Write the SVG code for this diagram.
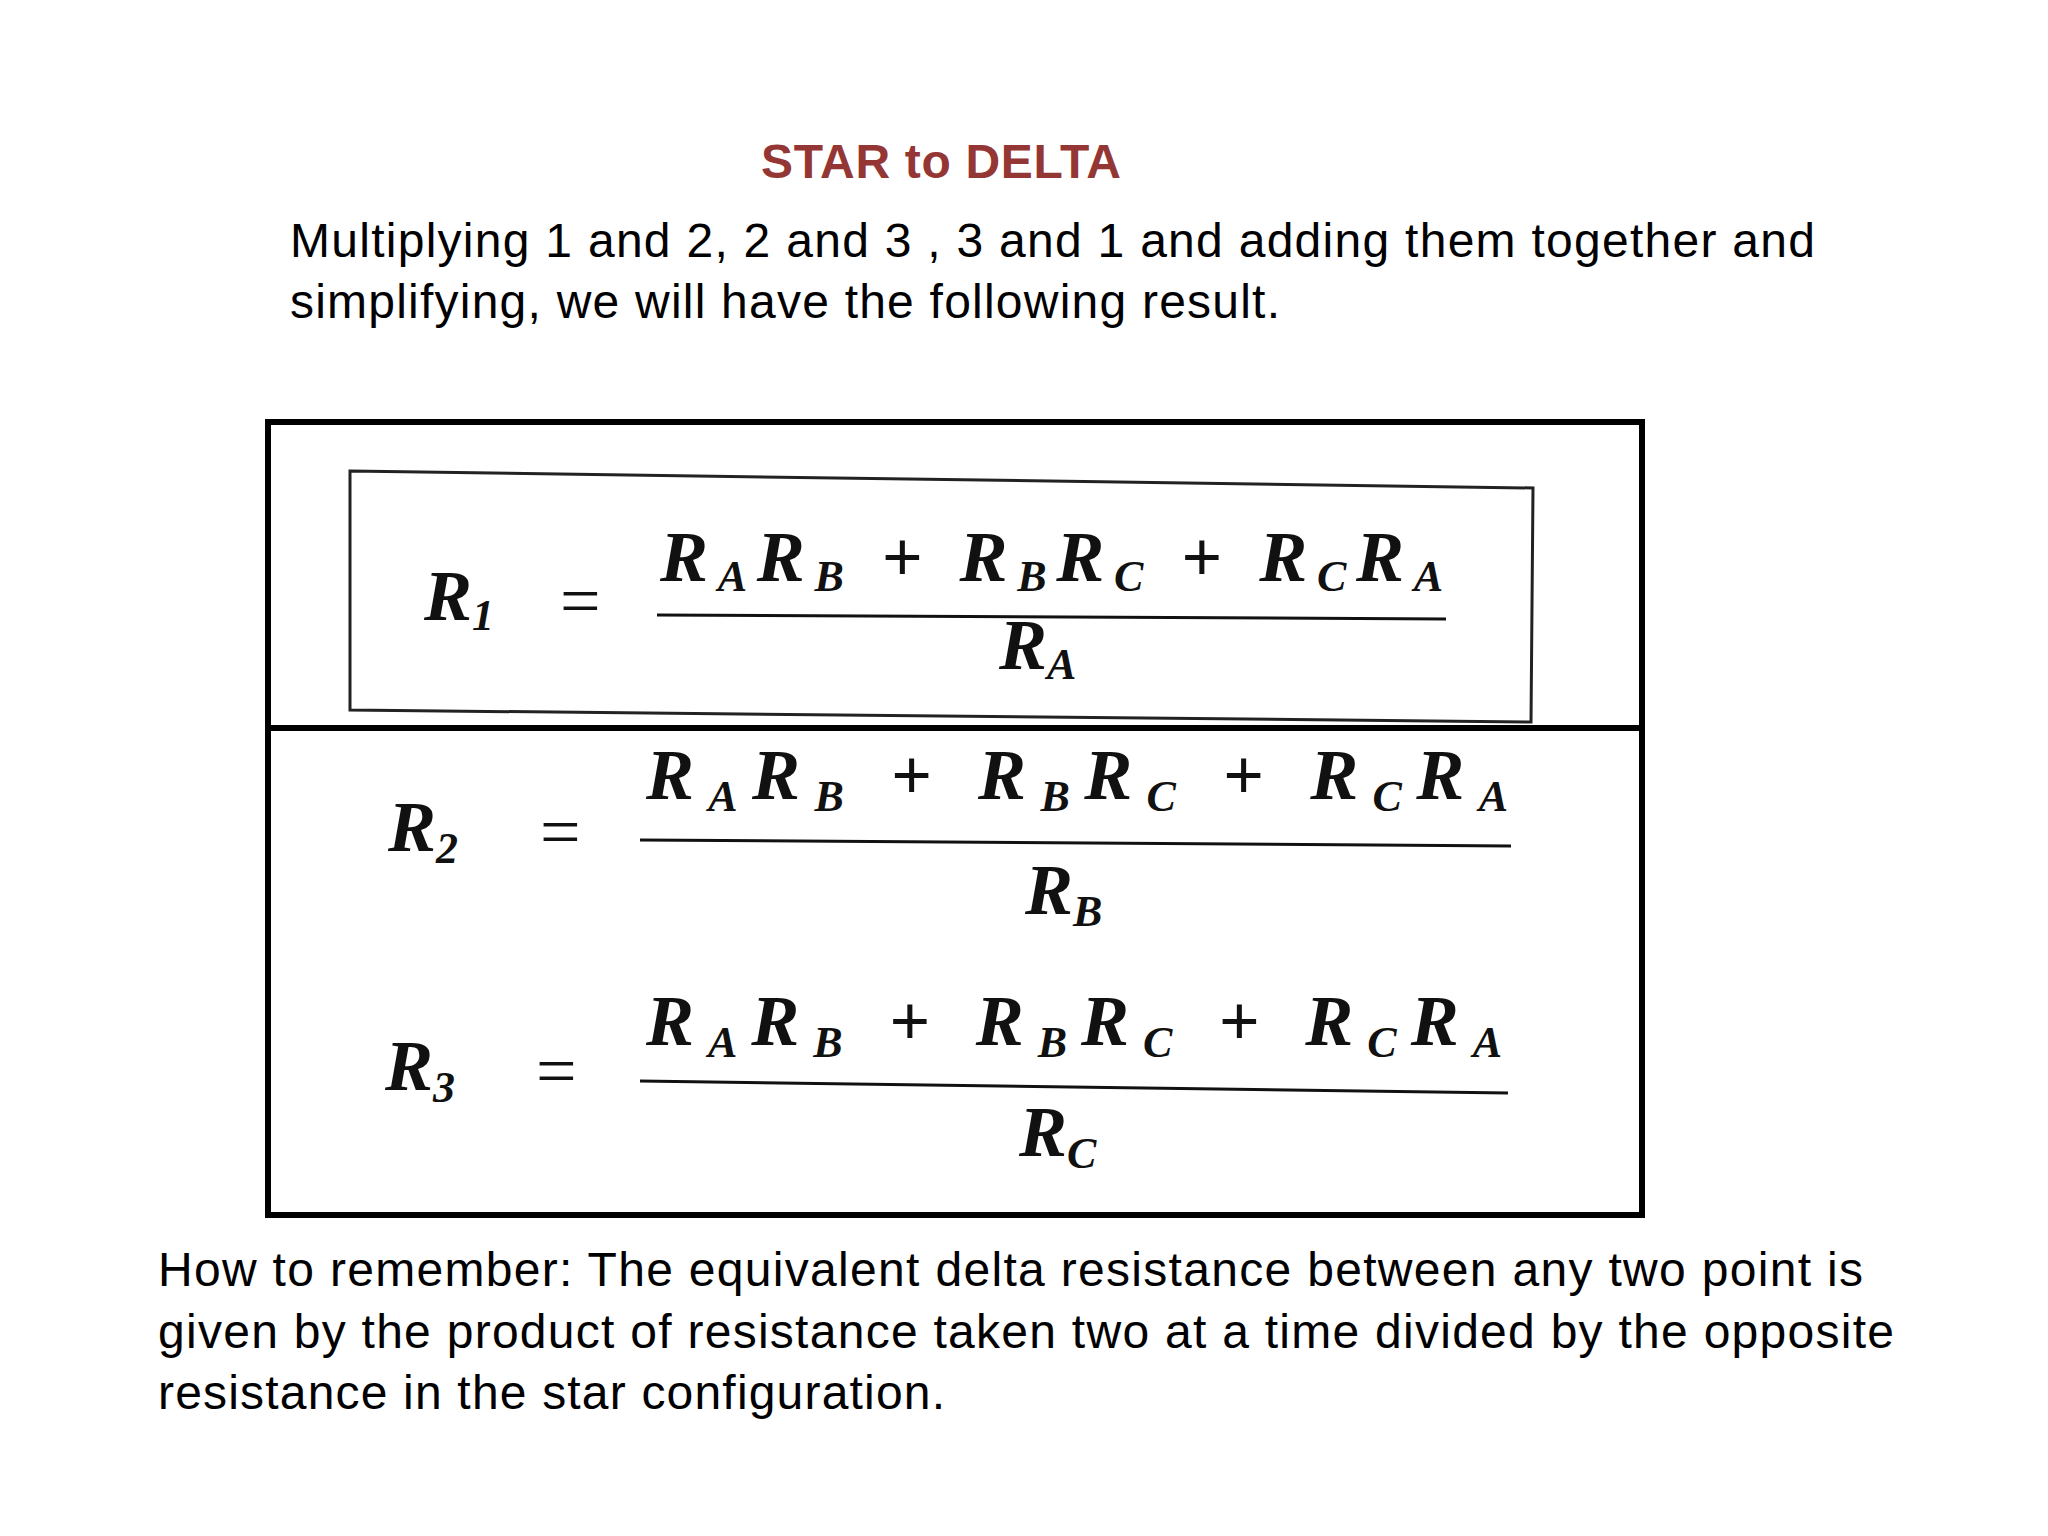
<svg xmlns="http://www.w3.org/2000/svg" width="2048" height="1536" viewBox="0 0 2048 1536">
<style>
.t{font-family:"Liberation Sans",Arial,sans-serif;font-size:48px;fill:#000}
.h{font-family:"Liberation Sans",Arial,sans-serif;font-size:48px;font-weight:bold;fill:#943634}
.m{font-family:"Liberation Serif","Times New Roman",serif;font-size:72px;font-weight:bold;font-style:italic;fill:#111}
.e{font-family:"Liberation Serif","Times New Roman",serif;font-size:72px;fill:#111}
.s{font-size:44px}
.fl{stroke:#111;stroke-width:3;fill:none}
</style>
<rect width="2048" height="1536" fill="#fff"/>
<text id="title" class="h" x="761" y="178" textLength="360">STAR to DELTA</text>
<g id="intro">
<text class="t" x="290" y="257" textLength="1525">Multiplying 1 and 2, 2 and 3 , 3 and 1 and adding them together and</text>
<text class="t" x="290" y="318" textLength="990">simplifying, we will have the following result.</text>
</g>
<g id="box">
<rect x="268" y="422" width="1374" height="793" fill="none" stroke="#000" stroke-width="6"/>
<line x1="268" y1="728" x2="1642" y2="728" stroke="#000" stroke-width="6"/>
<polygon points="350,471 1533,488 1531,722 350,710" fill="none" stroke="#222" stroke-width="3"/>
</g>
<g id="eq1">
<text class="m" x="424" y="620">R<tspan class="s" dy="10">1</tspan></text>
<text class="e" x="560" y="625">=</text>
<text class="m" x="660" y="581" textLength="783">R<tspan class="s" dy="10">A</tspan><tspan dy="-10">R</tspan><tspan class="s" dy="10">B</tspan><tspan dy="-10"> + R</tspan><tspan class="s" dy="10">B</tspan><tspan dy="-10">R</tspan><tspan class="s" dy="10">C</tspan><tspan dy="-10"> + R</tspan><tspan class="s" dy="10">C</tspan><tspan dy="-10">R</tspan><tspan class="s" dy="10">A</tspan></text>
<line class="fl" x1="657" y1="615" x2="1446" y2="619"/>
<text class="m" x="999" y="669">R<tspan class="s" dy="10">A</tspan></text>
</g>
<g id="eq2">
<text class="m" x="388" y="851">R<tspan class="s" dy="12">2</tspan></text>
<text class="e" x="540" y="856">=</text>
<text class="m" x="646" y="799" textLength="862">R<tspan class="s" dy="12">A</tspan><tspan dy="-12">R</tspan><tspan class="s" dy="12">B</tspan><tspan dy="-12"> + R</tspan><tspan class="s" dy="12">B</tspan><tspan dy="-12">R</tspan><tspan class="s" dy="12">C</tspan><tspan dy="-12"> + R</tspan><tspan class="s" dy="12">C</tspan><tspan dy="-12">R</tspan><tspan class="s" dy="12">A</tspan></text>
<line class="fl" x1="640" y1="840" x2="1511" y2="846"/>
<text class="m" x="1025" y="914">R<tspan class="s" dy="12">B</tspan></text>
</g>
<g id="eq3">
<text class="m" x="385" y="1090">R<tspan class="s" dy="12">3</tspan></text>
<text class="e" x="536" y="1095">=</text>
<text class="m" x="646" y="1045" textLength="856">R<tspan class="s" dy="12">A</tspan><tspan dy="-12">R</tspan><tspan class="s" dy="12">B</tspan><tspan dy="-12"> + R</tspan><tspan class="s" dy="12">B</tspan><tspan dy="-12">R</tspan><tspan class="s" dy="12">C</tspan><tspan dy="-12"> + R</tspan><tspan class="s" dy="12">C</tspan><tspan dy="-12">R</tspan><tspan class="s" dy="12">A</tspan></text>
<line class="fl" x1="640" y1="1081" x2="1508" y2="1093"/>
<text class="m" x="1019" y="1156">R<tspan class="s" dy="12">C</tspan></text>
</g>
<g id="note">
<text class="t" x="158" y="1286" textLength="1705">How to remember: The equivalent delta resistance between any two point is</text>
<text class="t" x="158" y="1348" textLength="1736">given by the product of resistance taken two at a time divided by the opposite</text>
<text class="t" x="158" y="1409" textLength="787">resistance in the star configuration.</text>
</g>
</svg>
